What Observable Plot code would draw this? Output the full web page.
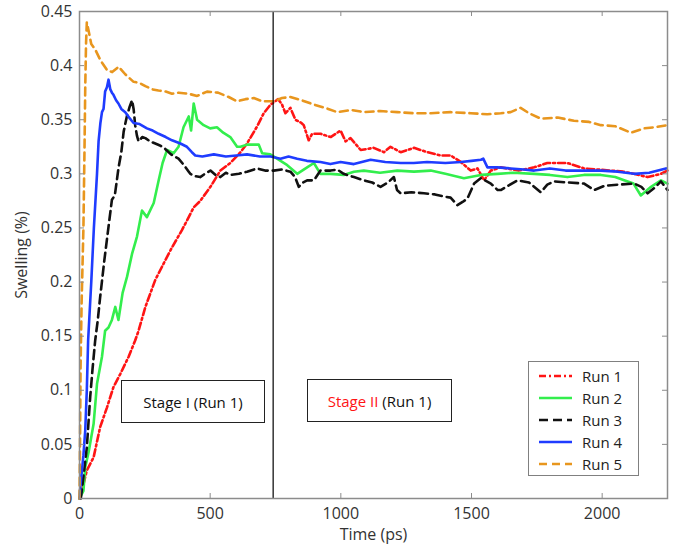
<!DOCTYPE html>
<html>
<head>
<meta charset="utf-8">
<script src="https://cdn.jsdelivr.net/npm/d3@7"></script>
<script src="https://cdn.jsdelivr.net/npm/@observablehq/plot@0.6"></script>
<style>
  html, body { margin: 0; padding: 0; background: #fff; }
  #wrap { position: relative; width: 679px; height: 545px; font-family: "Open Sans", sans-serif; }
  .box { position: absolute; box-sizing: border-box; border: 1.5px solid #222; background: #fff;
         font-size: 15px; color: #111; display: flex; align-items: center; justify-content: center; }
  #legend { position: absolute; box-sizing: border-box; border: 1px solid #808080; background: #fff;
            left: 528px; top: 361px; width: 111px; height: 115px; padding-top: 3px; }
  .row { display: flex; align-items: center; height: 22px; font-size: 15px; color: #222; }
  .row svg { margin-left: 10px; margin-right: 10px; }
</style>
</head>
<body>
<div id="wrap"></div>
<script>
// ---- data (Time in ps, Swelling in %) ----
const runNames = ["Run 1", "Run 2", "Run 3", "Run 4", "Run 5"];

const run1T = [0, 9, 28, 54, 79, 105, 130, 156, 188, 213, 226, 252, 290, 328, 354, 392, 418, 437, 462, 501, 539, 577, 616, 641, 680, 705, 731, 760, 775, 788, 807, 826, 849, 858, 877, 890, 922, 961, 999, 1018, 1037, 1076, 1126, 1165, 1190, 1229, 1280, 1331, 1382, 1420, 1459, 1497, 1523, 1548, 1574, 1612, 1680, 1740, 1790, 1867, 1931, 2033, 2080, 2122, 2174, 2225, 2250];
const run1V = [0, 0.007, 0.026, 0.038, 0.066, 0.084, 0.103, 0.115, 0.131, 0.146, 0.155, 0.177, 0.202, 0.220, 0.232, 0.248, 0.260, 0.269, 0.275, 0.288, 0.303, 0.310, 0.320, 0.328, 0.344, 0.356, 0.364, 0.369, 0.364, 0.356, 0.361, 0.350, 0.347, 0.345, 0.331, 0.337, 0.337, 0.334, 0.340, 0.330, 0.333, 0.322, 0.324, 0.320, 0.325, 0.320, 0.324, 0.320, 0.317, 0.317, 0.311, 0.303, 0.305, 0.294, 0.303, 0.306, 0.303, 0.306, 0.310, 0.310, 0.305, 0.303, 0.302, 0.300, 0.297, 0.300, 0.303];

const run2T = [0, 15, 22, 35, 54, 67, 86, 98, 111, 124, 137, 149, 165, 182, 201, 220, 239, 258, 284, 303, 318, 335, 360, 379, 398, 418, 427, 437, 450, 475, 500, 526, 550, 577, 603, 616, 641, 686, 699, 730, 756, 795, 833, 871, 897, 922, 961, 1011, 1050, 1088, 1150, 1216, 1280, 1344, 1400, 1471, 1536, 1600, 1660, 1740, 1800, 1867, 1930, 1995, 2050, 2084, 2120, 2148, 2187, 2225, 2250];
const run2V = [0, 0.007, 0.029, 0.043, 0.069, 0.106, 0.131, 0.155, 0.158, 0.165, 0.177, 0.165, 0.190, 0.205, 0.226, 0.242, 0.266, 0.260, 0.273, 0.294, 0.310, 0.322, 0.319, 0.325, 0.343, 0.353, 0.340, 0.365, 0.350, 0.345, 0.342, 0.343, 0.338, 0.334, 0.325, 0.325, 0.327, 0.327, 0.319, 0.318, 0.314, 0.308, 0.300, 0.306, 0.310, 0.300, 0.300, 0.299, 0.302, 0.303, 0.301, 0.303, 0.302, 0.303, 0.300, 0.296, 0.299, 0.300, 0.301, 0.300, 0.299, 0.297, 0.299, 0.299, 0.297, 0.294, 0.291, 0.280, 0.288, 0.294, 0.291];

const run3T = [5, 15, 28, 41, 50, 60, 70, 79, 95, 111, 124, 135, 143, 149, 160, 169, 182, 192, 201, 207, 213, 220, 226, 240, 252, 270, 290, 310, 328, 350, 379, 400, 418, 424, 440, 462, 480, 501, 520, 539, 560, 577, 610, 641, 680, 710, 743, 775, 807, 825, 839, 855, 871, 897, 922, 961, 986, 1011, 1050, 1088, 1120, 1152, 1180, 1203, 1215, 1229, 1270, 1318, 1360, 1395, 1420, 1446, 1466, 1484, 1510, 1536, 1574, 1600, 1612, 1640, 1676, 1720, 1765, 1790, 1816, 1870, 1931, 1969, 2010, 2059, 2122, 2150, 2174, 2200, 2225, 2250];
const run3V = [0, 0.020, 0.047, 0.094, 0.120, 0.146, 0.165, 0.186, 0.220, 0.251, 0.276, 0.280, 0.294, 0.305, 0.320, 0.339, 0.354, 0.362, 0.368, 0.360, 0.345, 0.335, 0.330, 0.334, 0.333, 0.330, 0.328, 0.326, 0.323, 0.318, 0.314, 0.308, 0.302, 0.300, 0.298, 0.297, 0.300, 0.303, 0.299, 0.297, 0.301, 0.299, 0.300, 0.302, 0.305, 0.303, 0.303, 0.304, 0.302, 0.297, 0.288, 0.292, 0.294, 0.294, 0.303, 0.303, 0.304, 0.300, 0.297, 0.294, 0.292, 0.288, 0.292, 0.297, 0.285, 0.282, 0.283, 0.282, 0.281, 0.279, 0.278, 0.271, 0.274, 0.277, 0.291, 0.296, 0.291, 0.285, 0.285, 0.289, 0.294, 0.292, 0.283, 0.290, 0.293, 0.292, 0.291, 0.285, 0.289, 0.290, 0.291, 0.288, 0.282, 0.287, 0.293, 0.285];

const run4T = [0, 3, 15, 22, 28, 33, 45, 55, 67, 73, 80, 86, 92, 98, 105, 111, 118, 124, 130, 140, 149, 160, 175, 190, 207, 230, 258, 280, 303, 330, 354, 386, 411, 430, 443, 470, 514, 560, 600, 641, 690, 731, 769, 800, 833, 870, 922, 960, 999, 1050, 1114, 1170, 1229, 1279, 1330, 1400, 1460, 1500, 1536, 1545, 1561, 1600, 1650, 1700, 1740, 1800, 1860, 1920, 1995, 2060, 2122, 2180, 2244];
const run4V = [0, 0.010, 0.040, 0.063, 0.100, 0.146, 0.200, 0.250, 0.300, 0.330, 0.347, 0.357, 0.360, 0.376, 0.380, 0.387, 0.378, 0.375, 0.373, 0.368, 0.365, 0.360, 0.357, 0.352, 0.347, 0.346, 0.342, 0.340, 0.337, 0.334, 0.331, 0.328, 0.325, 0.320, 0.317, 0.316, 0.318, 0.316, 0.317, 0.318, 0.316, 0.316, 0.314, 0.316, 0.314, 0.312, 0.311, 0.309, 0.311, 0.309, 0.313, 0.311, 0.310, 0.310, 0.311, 0.310, 0.311, 0.312, 0.313, 0.314, 0.306, 0.306, 0.305, 0.304, 0.303, 0.305, 0.303, 0.303, 0.303, 0.302, 0.300, 0.301, 0.305];

const run5T = [0, 2, 4, 8, 15, 19, 22, 25, 28, 35, 45, 60, 80, 105, 125, 150, 175, 207, 230, 252, 280, 302, 330, 354, 380, 417, 450, 488, 530, 571, 603, 635, 667, 700, 743, 775, 807, 850, 897, 940, 986, 1040, 1088, 1150, 1216, 1280, 1344, 1420, 1497, 1560, 1612, 1650, 1688, 1720, 1765, 1830, 1892, 1950, 1995, 2050, 2110, 2160, 2200, 2250];
const run5V = [0, 0.050, 0.120, 0.180, 0.250, 0.320, 0.380, 0.420, 0.440, 0.432, 0.420, 0.415, 0.405, 0.396, 0.394, 0.399, 0.392, 0.385, 0.384, 0.381, 0.378, 0.377, 0.376, 0.374, 0.375, 0.374, 0.372, 0.376, 0.375, 0.371, 0.367, 0.369, 0.370, 0.367, 0.367, 0.370, 0.371, 0.368, 0.364, 0.361, 0.357, 0.359, 0.357, 0.358, 0.357, 0.356, 0.356, 0.357, 0.356, 0.355, 0.356, 0.357, 0.361, 0.356, 0.351, 0.352, 0.349, 0.348, 0.345, 0.344, 0.338, 0.342, 0.343, 0.345];

const xTicks = [0, 500, 1000, 1500, 2000];
const yTicks = [0, 0.05, 0.1, 0.15, 0.2, 0.25, 0.3, 0.35, 0.4, 0.45];
const stageBoundary = [741];

// ---- styles ----
const runColors = ["#ff1414", "#33ee4d", "#111111", "#1f3cff", "#e8961e"];
const runDash = ["7,3,2,3", null, "9,5", null, "8,5"];

const series = [[run1T, run1V], [run2T, run2V], [run3T, run3V], [run4T, run4V], [run5T, run5V]]
  .map(([T, V]) => T.map((t, i) => ({t, v: V[i]})));

const W = 679, H = 545, mL = 79, mR = 12, mT = 11, mB = 47;
const innerW = W - mL - mR, innerH = H - mT - mB, tickLen = 5;

const lineMarks = series.map((d, i) => Plot.line(d, {
  x: "t", y: "v", stroke: runColors[i], strokeWidth: 2.6,
  strokeDasharray: runDash[i] || undefined, strokeLinejoin: "round"
}));

const chart = Plot.plot({
  width: W, height: H,
  marginLeft: mL, marginRight: mR, marginTop: mT, marginBottom: mB,
  style: {fontFamily: "Open Sans, sans-serif", fontSize: "16px", color: "#333", background: "#fff", overflow: "visible"},
  x: {domain: [0, 2250]},
  y: {domain: [0, 0.45]},
  marks: [
    ...lineMarks,
    Plot.ruleX(stageBoundary, {stroke: "#000", strokeWidth: 1.2}),
    Plot.frame({stroke: "#8c8c8c", strokeWidth: 1.5}),
    Plot.tickX(xTicks.slice(1), {x: d => d, insetTop: innerH - tickLen, stroke: "#8c8c8c"}),
    Plot.tickX(xTicks.slice(1), {x: d => d, insetBottom: innerH - tickLen, stroke: "#8c8c8c"}),
    Plot.tickY(yTicks.slice(1), {y: d => d, insetLeft: innerW - tickLen, stroke: "#8c8c8c"}),
    Plot.tickY(yTicks.slice(1), {y: d => d, insetRight: innerW - tickLen, stroke: "#8c8c8c"}),
    Plot.axisX(xTicks, {tickSize: 0, tickPadding: 9, tickFormat: d3.format("d"), fontSize: 16,
      label: "Time (ps)", labelAnchor: "center", labelOffset: 41, labelArrow: "none"}),
    Plot.axisY(yTicks, {tickSize: 0, tickPadding: 7, tickFormat: d3.format("~g"), fontSize: 16,
      label: "Swelling (%)", labelAnchor: "center", labelOffset: 64, labelArrow: "none"})
  ]
});

const wrap = document.getElementById("wrap");
wrap.appendChild(chart);

// Stage annotation boxes
const s1 = document.createElement("div");
s1.className = "box";
s1.style.cssText = "left:121px;top:380px;width:144px;height:43px;";
s1.textContent = "Stage I (Run 1)";
wrap.appendChild(s1);

const s2 = document.createElement("div");
s2.className = "box";
s2.style.cssText = "left:307px;top:379px;width:145px;height:43px;";
s2.innerHTML = '<span style="color:#ff1414">Stage II</span>&nbsp;(Run 1)';
wrap.appendChild(s2);

// Legend
const legend = document.createElement("div");
legend.id = "legend";
runNames.forEach((name, i) => {
  const row = document.createElement("div");
  row.className = "row";
  const dash = runDash[i] ? `stroke-dasharray="${runDash[i]}"` : "";
  row.innerHTML = `<svg width="33" height="6"><line x1="0" x2="33" y1="3" y2="3" stroke="${runColors[i]}" stroke-width="2.4" ${dash}/></svg><span>${name}</span>`;
  legend.appendChild(row);
});
wrap.appendChild(legend);
</script>
</body>
</html>
